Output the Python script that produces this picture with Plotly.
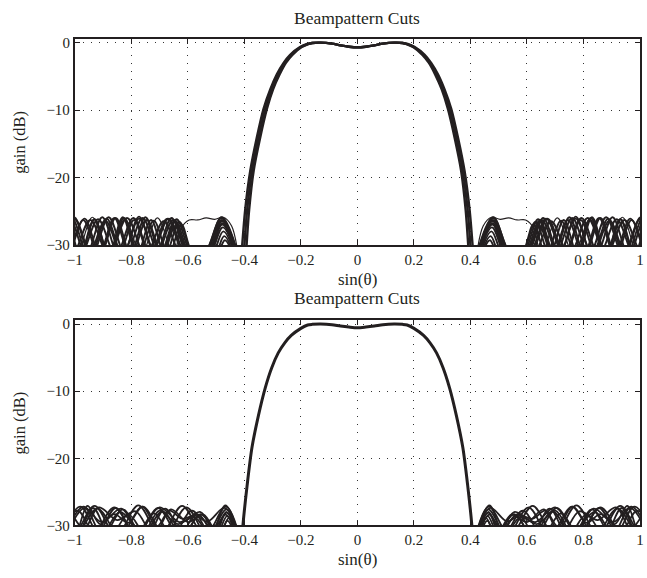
import plotly.graph_objects as go

# ---------------- data (positive half of each symmetric cut) ----------------
x_tickvals = [-1, -0.8, -0.6, -0.4, -0.2, 0, 0.2, 0.4, 0.6, 0.8, 1]
x_ticktext = ["\u22121", "\u22120.8", "\u22120.6", "\u22120.4", "\u22120.2", "0", "0.2", "0.4", "0.6", "0.8", "1"]
y_tickvals = [-30, -20, -10, 0]
y_ticktext = ["\u221230", "\u221220", "\u221210", "0"]

# Top panel main lobe (three curves forming the bundle)
top_main_db = [-0.7, -0.6, -0.4, -0.15, 0.0, -0.05, -0.2, -0.65, -1.8, -3.0, -4.7, -6.9, -9.8, -14.1, -19.0, -24.8, -32.0]
top_main_x_outer = [0, 0.03, 0.06, 0.09, 0.13, 0.16, 0.178, 0.203, 0.238, 0.261, 0.285, 0.308, 0.332, 0.356, 0.379, 0.397, 0.411]
top_main_x_mid = [0, 0.03, 0.06, 0.09, 0.13, 0.16, 0.176, 0.200, 0.234, 0.257, 0.280, 0.303, 0.326, 0.350, 0.373, 0.390, 0.403]
top_main_x_inner = [0, 0.03, 0.06, 0.09, 0.13, 0.16, 0.174, 0.197, 0.230, 0.253, 0.275, 0.298, 0.320, 0.344, 0.367, 0.383, 0.395]

# Bottom panel main lobe
bot_main_x = [0, 0.03, 0.06, 0.09, 0.13, 0.16, 0.176, 0.2, 0.234, 0.257, 0.28, 0.303, 0.326, 0.35, 0.373, 0.39, 0.405, 0.41]
bot_main_db = [-0.55, -0.45, -0.3, -0.1, 0.0, -0.05, -0.15, -0.65, -1.7, -2.8, -4.3, -6.5, -9.5, -13.6, -18.4, -24.0, -30.0, -33.0]

# Top panel sidelobe cuts (alternating nulls / peaks)
top_sl_x = [
    [0.418, 0.480, 0.545, 0.600, 0.6575, 0.715, 0.7725, 0.830, 0.8875, 0.945, 1.0025, 1.06],
    [0.421, 0.479, 0.540, 0.585, 0.640, 0.695, 0.750, 0.805, 0.860, 0.915, 0.970, 1.025, 1.080, 1.135],
    [0.424, 0.478, 0.532, 0.605, 0.6675, 0.730, 0.7925, 0.855, 0.9175, 0.980, 1.0425, 1.105],
    [0.427, 0.476, 0.525, 0.580, 0.630, 0.680, 0.730, 0.780, 0.830, 0.880, 0.930, 0.980, 1.030, 1.080],
    [0.430, 0.474, 0.518, 0.592, 0.652, 0.712, 0.772, 0.832, 0.892, 0.952, 1.012, 1.072],
    [0.434, 0.471, 0.508, 0.620, 0.685, 0.750, 0.815, 0.880, 0.945, 1.010, 1.075],
    [0.415, 0.445, 0.475, 0.505, 0.535, 0.565, 0.595, 0.625, 0.650, 0.7075, 0.765, 0.8225, 0.880, 0.9375, 0.995, 1.0525, 1.11],
    [0.437, 0.4685, 0.500, 0.578, 0.623, 0.668, 0.7205, 0.773, 0.8255, 0.878, 0.9305, 0.983, 1.0355, 1.088],
    [0.419, 0.481, 0.543, 0.590, 0.645, 0.700, 0.760, 0.820, 0.880, 0.940, 1.000, 1.060],
    [0.426, 0.478, 0.530, 0.598, 0.644, 0.690, 0.745, 0.800, 0.855, 0.910, 0.965, 1.020],
    [0.422, 0.479, 0.536, 0.610, 0.6725, 0.735, 0.790, 0.845, 0.9025, 0.960, 1.0175, 1.075],
]
top_sl_db = [
    [-32, -25.9, -31.5, -31.5, -26.0, -31.5, -25.8, -31.5, -26.1, -31.5, -25.9, -31.5],
    [-32, -26.3, -31.5, -31.5, -26.2, -31.5, -25.9, -31.5, -26.0, -31.5, -26.3, -31.5, -26.0, -31.5],
    [-32, -26.8, -31.5, -31.5, -26.1, -31.5, -26.0, -31.5, -26.2, -31.5, -25.9, -31.5],
    [-32, -27.4, -31.5, -31.5, -26.6, -31.5, -26.3, -31.5, -25.9, -31.5, -26.2, -31.5, -26.0, -31.5],
    [-32, -28.0, -31.5, -31.5, -26.3, -31.5, -26.1, -31.5, -26.4, -31.5, -25.9, -31.5],
    [-32, -28.7, -31.5, -31.5, -26.5, -31.5, -26.0, -31.5, -26.3, -31.5, -26.1],
    [-34, -27.2, -25.9, -26.2, -26.0, -26.3, -26.3, -27.6, -31.5, -26.0, -31.5, -26.2, -31.5, -25.9, -31.5, -26.1, -31.5],
    [-32, -29.3, -31.5, -31.5, -27.0, -31.5, -26.4, -31.5, -26.0, -31.5, -26.2, -31.5, -26.0, -31.5],
    [-32, -26.0, -31.5, -31.5, -26.4, -31.5, -26.0, -31.5, -25.9, -31.5, -26.2, -31.5],
    [-32, -27.0, -31.5, -31.5, -27.2, -31.5, -26.3, -31.5, -26.0, -31.5, -26.1, -31.5],
    [-32, -26.5, -31.5, -31.5, -26.1, -31.5, -26.3, -31.5, -25.9, -31.5, -26.1, -31.5],
]

# Bottom panel sidelobe cuts
bot_sl_x = [
    [0.415, 0.465, 0.540, 0.620, 0.698, 0.775, 0.853, 0.930, 1.008, 1.085],
    [0.418, 0.463, 0.530, 0.605, 0.680, 0.760, 0.840, 0.920, 1.000, 1.080],
    [0.421, 0.462, 0.510, 0.570, 0.630, 0.705, 0.780, 0.860, 0.940, 1.020],
    [0.425, 0.461, 0.500, 0.555, 0.635, 0.700, 0.765, 0.835, 0.905, 0.970, 1.035],
    [0.415, 0.470, 0.530, 0.575, 0.620, 0.665, 0.710, 0.760, 0.810, 0.860, 0.910, 0.955, 1.000, 1.045],
    [0.420, 0.455, 0.490, 0.555, 0.620, 0.690, 0.760, 0.830, 0.900, 0.965, 1.030],
    [0.430, 0.460, 0.490, 0.545, 0.600, 0.660, 0.720, 0.785, 0.850, 0.915, 0.980, 1.045],
    [0.416, 0.467, 0.520, 0.575, 0.630, 0.700, 0.770, 0.840, 0.910, 0.980, 1.050],
    [0.423, 0.464, 0.505, 0.560, 0.615, 0.680, 0.745, 0.810, 0.875, 0.935, 0.995, 1.055],
    [0.428, 0.466, 0.515, 0.585, 0.655, 0.720, 0.785, 0.855, 0.925, 0.990, 1.055],
]
bot_sl_db = [
    [-32, -27.2, -31.5, -27.1, -31.5, -27.0, -31.5, -27.1, -31.5, -27.3],
    [-32, -27.6, -31.5, -27.3, -31.5, -27.2, -31.5, -27.5, -31.5, -27.2],
    [-32, -28.1, -30.5, -28.3, -31.5, -27.4, -31.5, -27.3, -31.5, -27.6],
    [-32, -28.6, -31.5, -28.0, -29.8, -27.8, -31.5, -27.5, -29.5, -27.2, -31.5],
    [-32, -27.4, -29.4, -28.5, -29.0, -27.8, -30.2, -27.2, -29.6, -28.3, -29.8, -27.1, -31.5, -28.0],
    [-32, -28.9, -31.5, -28.3, -31.5, -27.9, -31.5, -27.6, -31.5, -27.4, -31.5],
    [-32, -29.3, -31.5, -28.4, -29.5, -27.6, -31.5, -27.9, -29.2, -27.3, -31.5, -27.5],
    [-32, -27.0, -31.5, -28.8, -29.5, -27.3, -30.5, -28.0, -31.5, -27.2, -31.5],
    [-32, -28.0, -31.5, -28.5, -31.5, -27.5, -31.5, -28.4, -31.5, -27.4, -31.5, -28.0],
    [-32, -28.4, -31.5, -27.8, -31.5, -28.2, -31.5, -27.4, -31.5, -27.8, -31.5],
]

# ---------------- figure ----------------
INK = "#231f20"
FONT = "Liberation Serif, Times New Roman, serif"


def mirrored(xs, ys):
    """Symmetric cut: negative half is the mirror image of the positive half."""
    return [-v for v in reversed(xs)], list(reversed(ys))


fig = go.Figure()


def add_line(xs, ys, xa, ya, width, smoothing=1.0):
    fig.add_trace(go.Scatter(x=xs, y=ys, mode="lines", xaxis=xa, yaxis=ya,
                             line=dict(color=INK, width=width, shape="spline", smoothing=smoothing),
                             hoverinfo="skip", showlegend=False))


def add_sidelobe_cut(xs, ys, xa, ya, width):
    add_line(xs, ys, xa, ya, width)
    xn, yn = mirrored(xs, ys)
    add_line(xn, yn, xa, ya, width)


def add_main(xm, dbs, xa, ya, width):
    xn, yn = mirrored(xm, dbs)
    add_line(xn[:-1] + xm, yn[:-1] + dbs, xa, ya, width, smoothing=0.8)


# top panel
for i, (xs, ys) in enumerate(zip(top_sl_x, top_sl_db)):
    add_sidelobe_cut(xs, ys, "x", "y", 1.2 if i == 6 else 1.9)
for xm in (top_main_x_outer, top_main_x_mid, top_main_x_inner):
    add_main(xm, top_main_db, "x", "y", 2.4)

# bottom panel
for xs, ys in zip(bot_sl_x, bot_sl_db):
    add_sidelobe_cut(xs, ys, "x2", "y2", 1.8)
add_main(bot_main_x, bot_main_db, "x2", "y2", 3.0)

W, H = 647, 578
L, R = 68, 644
top_y0, top_y1 = 246, 35.7
bot_y0, bot_y1 = 532.5, 322.7


def pf(py):
    return 1 - py / H


common_x = dict(range=[-1, 1], tickvals=x_tickvals, ticktext=x_ticktext,
                ticks="inside", ticklen=5, tickcolor=INK, tickwidth=1,
                showline=True, linecolor=INK, linewidth=1.7, mirror="ticks",
                showgrid=True, gridcolor="#333333", gridwidth=1, griddash="1px,7px",
                zeroline=False, tickfont=dict(family=FONT, size=15, color=INK),
                ticklabeloverflow="allow",
                domain=[L / W, R / W], fixedrange=True)
common_y = dict(tickvals=y_tickvals, ticktext=y_ticktext,
                ticks="inside", ticklen=5, tickcolor=INK, tickwidth=1,
                showline=True, linecolor=INK, linewidth=1.7, mirror="ticks",
                showgrid=True, gridcolor="#333333", gridwidth=1, griddash="1px,7px",
                zeroline=False, tickfont=dict(family=FONT, size=15, color=INK),
                ticklabeloverflow="allow", fixedrange=True)

fig.update_layout(
    width=W, height=H,
    margin=dict(l=0, r=0, t=0, b=0),
    paper_bgcolor="white", plot_bgcolor="white",
    showlegend=False,
    xaxis=dict(common_x, anchor="y"),
    yaxis=dict(common_y, range=[-30, 0.55], domain=[pf(top_y0), pf(top_y1)], anchor="x"),
    xaxis2=dict(common_x, anchor="y2"),
    yaxis2=dict(common_y, range=[-30, 0.6], domain=[pf(bot_y0), pf(bot_y1)], anchor="x2"),
)

cx = (L + R) / 2 / W


def ann(text, x, y, size, angle=0):
    return dict(text=text, x=x, y=y, xref="paper", yref="paper", xanchor="center",
                yanchor="middle", showarrow=False, textangle=angle,
                font=dict(family=FONT, size=size, color=INK))


fig.update_layout(annotations=[
    ann("Beampattern Cuts", cx, pf(14), 17.5),
    ann("Beampattern Cuts", cx, pf(300), 17.5),
    ann("sin(\u03b8)", cx, pf(281), 17),
    ann("sin(\u03b8)", cx, pf(567), 17),
    ann("gain (dB)", 12 / W, pf((top_y0 + top_y1) / 2), 16.5, -90),
    ann("gain (dB)", 12 / W, pf((bot_y0 + bot_y1) / 2), 16.5, -90),
])

fig.write_html("out.html")
